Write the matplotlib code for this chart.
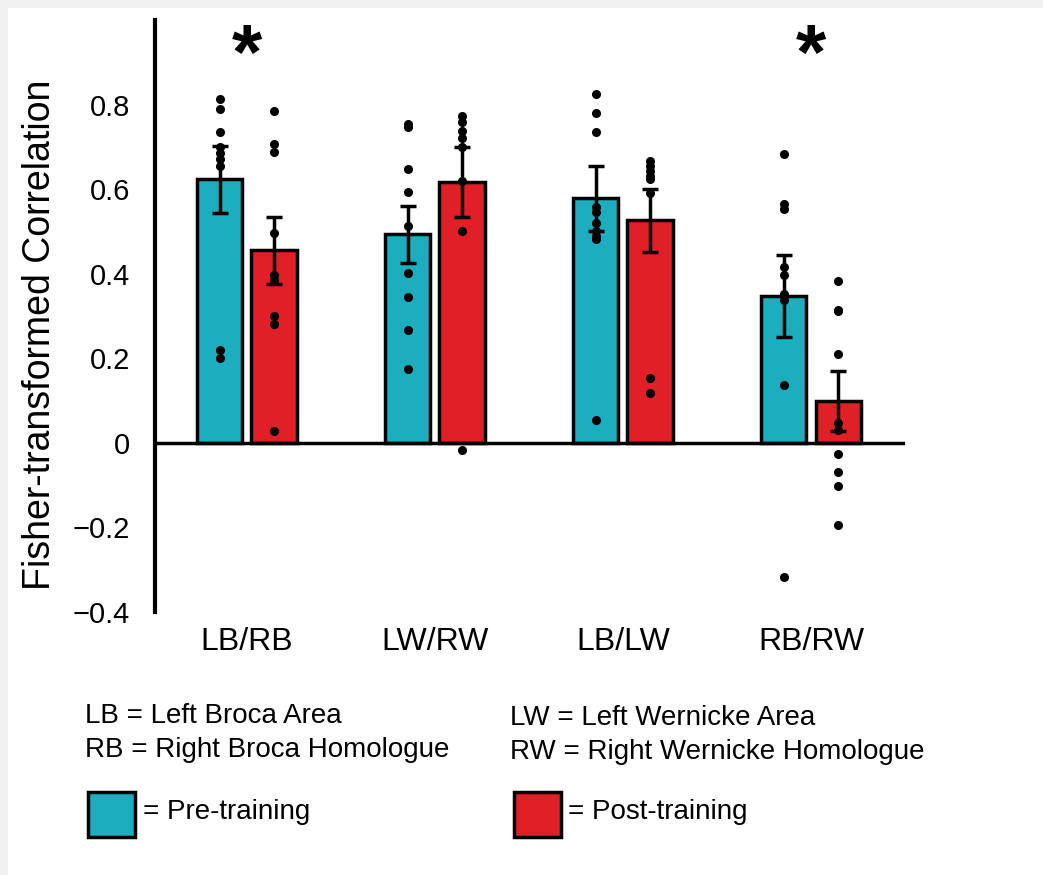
import matplotlib
matplotlib.use("Agg")
import matplotlib.pyplot as plt
from matplotlib.patches import Rectangle
import numpy as np

plt.rcParams['font.family'] = ['Liberation Sans', 'DejaVu Sans']

# group labels and bar means / standard errors
groups = ['LB/RB', 'LW/RW', 'LB/LW', 'RB/RW']
pre_mean = [0.623, 0.493, 0.578, 0.348]
post_mean = [0.455, 0.616, 0.526, 0.100]
pre_err = [0.080, 0.068, 0.076, 0.097]
post_err = [0.080, 0.083, 0.075, 0.071]

# individual subject values
pre_pts = [
    [0.814, 0.789, 0.736, 0.699, 0.685, 0.671, 0.654, 0.220, 0.201],
    [0.754, 0.746, 0.647, 0.593, 0.513, 0.402, 0.345, 0.266, 0.175],
    [0.825, 0.781, 0.735, 0.557, 0.545, 0.521, 0.501, 0.489, 0.481, 0.055],
    [0.682, 0.564, 0.552, 0.415, 0.398, 0.351, 0.339, 0.137, -0.318],
]
post_pts = [
    [0.785, 0.706, 0.688, 0.497, 0.398, 0.386, 0.299, 0.280, 0.027],
    [0.773, 0.758, 0.738, 0.720, 0.700, 0.619, 0.501, -0.017],
    [0.667, 0.655, 0.643, 0.631, 0.623, 0.592, 0.153, 0.118],
    [0.382, 0.315, 0.311, 0.209, 0.047, 0.031, -0.026, -0.068, -0.102, -0.194],
]
signif = [True, False, False, True]

yticks = [0.8, 0.6, 0.4, 0.2, 0, -0.2, -0.4]
ytick_labels = ['0.8', '0.6', '0.4', '0.2', '0', '\u22120.2', '\u22120.4']

teal = '#1caebf'
red = '#e01f27'

fig = plt.figure(figsize=(10.43, 8.75), dpi=100)
fig.patch.set_facecolor('#f0f0f0')
fig.add_artist(Rectangle((8/1043, 0), 1, 1 - 8/875, transform=fig.transFigure,
                         facecolor='white', edgecolor='none', zorder=0))

ax = fig.add_axes([155/1043, 1 - 612/875, 750/1043, 592/875])
ax.set_facecolor('none')

x = np.arange(len(groups))
w = 0.24
off = 0.144

ax.bar(x - off, pre_mean, w, color=teal, edgecolor='black', linewidth=2.5, zorder=2)
ax.bar(x + off, post_mean, w, color=red, edgecolor='black', linewidth=2.5, zorder=2)
ax.errorbar(x - off, pre_mean, yerr=pre_err, fmt='none', ecolor='black',
            elinewidth=2.5, capsize=6, capthick=2.5, zorder=3)
ax.errorbar(x + off, post_mean, yerr=post_err, fmt='none', ecolor='black',
            elinewidth=2.5, capsize=6, capthick=2.5, zorder=3)

for i in range(len(groups)):
    ax.plot([x[i] - off] * len(pre_pts[i]), pre_pts[i], 'o', color='black',
            markersize=5.5, zorder=4)
    ax.plot([x[i] + off] * len(post_pts[i]), post_pts[i], 'o', color='black',
            markersize=5.5, zorder=4)
    if signif[i]:
        ax.text(x[i], 0.91, '*', ha='center', va='center', fontsize=56,
                fontweight='bold', clip_on=False)

ax.axhline(0, color='black', linewidth=2.5, zorder=5)

ax.set_xlim(-0.489, 3.5)
ax.set_ylim(-0.4, 1.0)
ax.set_yticks(yticks)
ax.set_yticklabels(ytick_labels, fontsize=21)
ax.set_xticks(x)
ax.set_xticklabels(groups, fontsize=23)
ax.tick_params(axis='y', length=0, pad=18)
ax.tick_params(axis='x', length=0, pad=11)
for s in ['top', 'right', 'bottom']:
    ax.spines[s].set_visible(False)
ax.spines['left'].set_linewidth(3)

fig.text(40/1043, 1 - 335/875, 'Fisher-transformed Correlation', rotation=90,
         ha='center', va='center', fontsize=27)

# key below the chart
fig.text(85/1043, 1 - 716/875, 'LB = Left Broca Area', fontsize=20, va='center')
fig.text(85/1043, 1 - 750/875, 'RB = Right Broca Homologue', fontsize=20, va='center')
fig.text(510/1043, 1 - 718/875, 'LW = Left Wernicke Area', fontsize=20, va='center')
fig.text(510/1043, 1 - 752/875, 'RW = Right Wernicke Homologue', fontsize=20, va='center')

fig.add_artist(Rectangle((88/1043, 1 - 837/875), 47/1043, 45/875,
                         transform=fig.transFigure, facecolor=teal,
                         edgecolor='black', linewidth=2.5))
fig.add_artist(Rectangle((514/1043, 1 - 837/875), 47/1043, 45/875,
                         transform=fig.transFigure, facecolor=red,
                         edgecolor='black', linewidth=2.5))
fig.text(143/1043, 1 - 812/875, '= Pre-training', fontsize=20, va='center')
fig.text(568/1043, 1 - 812/875, '= Post-training', fontsize=20, va='center')

fig.savefig('out.png', dpi=100)
